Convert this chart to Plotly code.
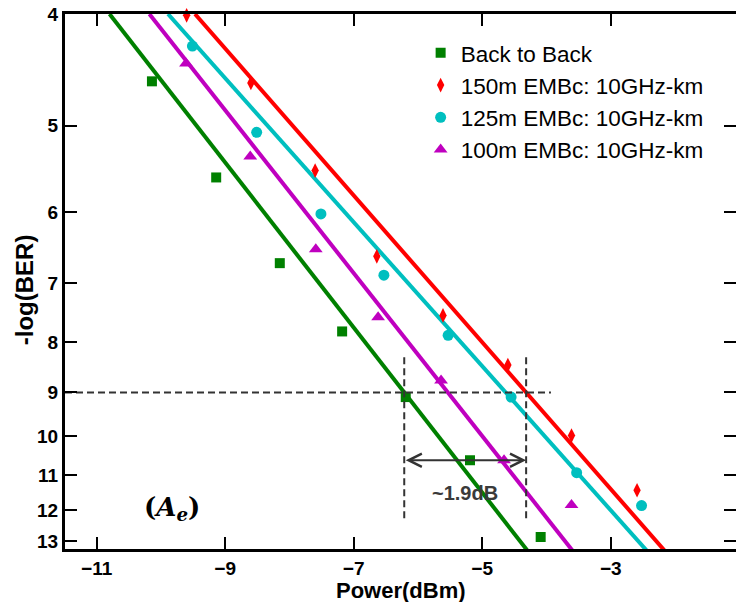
import numpy as np
import plotly.graph_objects as go

# Received optical power (dBm) vs -log10(BER)
b2b_power = [-10.14, -9.14, -8.15, -7.18, -6.19, -5.19, -4.09]
b2b_ber = [4.57, 5.57, 6.70, 7.81, 9.10, 10.60, 12.86]

m150_power = [-9.60, -8.60, -7.60, -6.64, -5.61, -4.60, -3.61, -2.59]
m150_ber = [4.01, 4.585, 5.49, 6.60, 7.53, 8.44, 9.98, 11.42]

m125_power = [-9.51, -8.51, -7.51, -6.53, -5.53, -4.55, -3.53, -2.52]
m125_ber = [4.26, 5.07, 6.02, 6.88, 7.88, 9.10, 10.93, 11.87]

m100_power = [-9.61, -8.61, -7.59, -6.62, -5.64, -4.66, -3.61]
m100_ber = [4.41, 5.33, 6.50, 7.56, 8.75, 10.60, 11.85]

# Linear fits: power at -log(BER) = 4 and at -log(BER) = 13
fit_levels = [4, 13]
b2b_fit = [-10.80, -4.41]
m150_fit = [-9.47, -2.29]
m125_fit = [-9.89, -2.57]
m100_fit = [-10.18, -3.71]

y_ticks = list(range(4, 14))
x_ticks = [-11, -9, -7, -5, -3, -1]
ref_level = 9          # BER = 1e-9 reference
marker_level = 10.6    # height of the penalty arrow
vline_span = [8.29, 12.34]
hline_end = -3.93
penalty_text = "~1.9dB"


def ber_scale(v):
    """Compressed -log(BER) scale used for the vertical axis."""
    return np.power(np.asarray(v, dtype=float), -0.24)


y_top = float(ber_scale(4))
y_13 = float(ber_scale(13))
y_bottom = y_13 - 0.0148 * (y_top - y_13)
x_range = [-11.493, -1.05]


def fit_line(fit):
    f4, f13 = ber_scale(fit_levels)
    fs = np.array([y_top, y_bottom - 0.02])
    xs = fit[0] + (fit[1] - fit[0]) * (f4 - fs) / (f4 - f13)
    return xs, fs


def power_at(fit, level):
    f4, f13 = ber_scale(fit_levels)
    f = ber_scale(level)
    return fit[0] + (fit[1] - fit[0]) * (f4 - f) / (f4 - f13)


series = [
    ("Back to Back", b2b_power, b2b_ber, b2b_fit, "#008000", "square", 10),
    ("150m EMBc: 10GHz-km", m150_power, m150_ber, m150_fit, "#ff0000", "diamond-tall", 10.5),
    ("125m EMBc: 10GHz-km", m125_power, m125_ber, m125_fit, "#00bfbf", "circle", 11),
    ("100m EMBc: 10GHz-km", m100_power, m100_ber, m100_fit, "#bf00bf", "triangle-up", 12),
]

fig = go.Figure()

for name, px, pv, fit, color, sym, size in series:
    xs, fs = fit_line(fit)
    fig.add_trace(go.Scatter(x=xs, y=fs, mode="lines",
                             line=dict(color=color, width=4),
                             showlegend=False, hoverinfo="skip"))

for name, px, pv, fit, color, sym, size in series:
    fig.add_trace(go.Scatter(x=px, y=ber_scale(pv), mode="markers", name=name,
                             marker=dict(color=color, symbol=sym, size=size,
                                         line=dict(width=0)),
                             cliponaxis=False))

# Reference-level guides and power penalty
x_b2b = float(power_at(b2b_fit, ref_level))
x_150 = float(power_at(m150_fit, ref_level))
dash = dict(color="#333333", width=2, dash="7px,4px")
fig.add_trace(go.Scatter(x=[x_range[0], hline_end], y=ber_scale([ref_level, ref_level]),
                         mode="lines", line=dash, showlegend=False, hoverinfo="skip"))
for xv in (x_b2b, x_150):
    fig.add_trace(go.Scatter(x=[xv, xv], y=ber_scale(vline_span), mode="lines",
                             line=dash, showlegend=False, hoverinfo="skip"))

# dummy trace for the mirrored right-hand axis
fig.add_trace(go.Scatter(x=[None], y=[None], yaxis="y2", showlegend=False,
                         hoverinfo="skip"))

ya = float(ber_scale(marker_level))
fig.add_annotation(x=x_150, y=ya, ax=x_b2b, ay=ya, xref="x", yref="y",
                   axref="x", ayref="y", text="", showarrow=True,
                   arrowhead=5, startarrowhead=5, arrowside="end+start",
                   arrowsize=1.3, arrowwidth=2, arrowcolor="#333333",
                   standoff=0, startstandoff=0)
fig.add_annotation(x=(x_b2b + x_150) / 2, y=float(ber_scale(11.5)), xref="x", yref="y",
                   text="<b>" + penalty_text + "</b>", showarrow=False,
                   font=dict(family="Liberation Sans, Arial", size=20, color="#3a3a3a"))
fig.add_annotation(x=-9.83, y=float(ber_scale(11.95)), xref="x", yref="y",
                   text="<b>(<i>A</i><sub><i>e</i></sub>)</b>", showarrow=False,
                   font=dict(family="DejaVu Serif", size=26, color="black"))

# Axis titles
fig.add_annotation(x=0.5, y=-0.0775, xref="paper", yref="paper",
                   text="<b>Power(dBm)</b>", showarrow=False, yanchor="middle",
                   font=dict(family="Liberation Sans, Arial", size=22, color="black"))
fig.add_annotation(x=-0.06, y=0.485, xref="paper", yref="paper",
                   text="<b>-log(BER)</b>", showarrow=False, textangle=-90,
                   xanchor="center", yanchor="middle",
                   font=dict(family="Liberation Sans, Arial", size=24, color="black"))

tick_font = dict(family="Liberation Sans, Arial", size=19, color="black", weight="bold")

fig.update_layout(
    width=736, height=602,
    margin=dict(l=65, r=0, t=14, b=52.5),
    plot_bgcolor="white", paper_bgcolor="white",
    xaxis=dict(range=x_range, tickvals=x_ticks, ticks="inside", ticklen=12,
               tickwidth=2, tickcolor="black", showline=True, linewidth=3,
               linecolor="black", mirror="ticks", showgrid=False, zeroline=False,
               tickfont=tick_font, ticklabelstandoff=0),
    yaxis=dict(range=[y_bottom, y_top], tickvals=ber_scale(y_ticks),
               ticktext=[str(t) for t in y_ticks], ticks="inside", ticklen=12,
               tickwidth=2, tickcolor="black", showline=True, linewidth=3,
               linecolor="black", mirror=False, showgrid=False, zeroline=False,
               tickfont=tick_font),
    yaxis2=dict(range=[y_bottom, y_top], tickvals=ber_scale(y_ticks), overlaying="y",
                side="right", anchor="x", ticks="inside", ticklen=12, tickwidth=2,
                tickcolor="black", showticklabels=False, showline=False,
                showgrid=False, zeroline=False),
    legend=dict(x=0.53, y=0.967, xanchor="left", yanchor="top",
                bgcolor="rgba(0,0,0,0)", borderwidth=0,
                font=dict(family="Liberation Sans, Arial", size=22.5, color="black")),
    showlegend=True,
)

fig.write_html("out.html")
